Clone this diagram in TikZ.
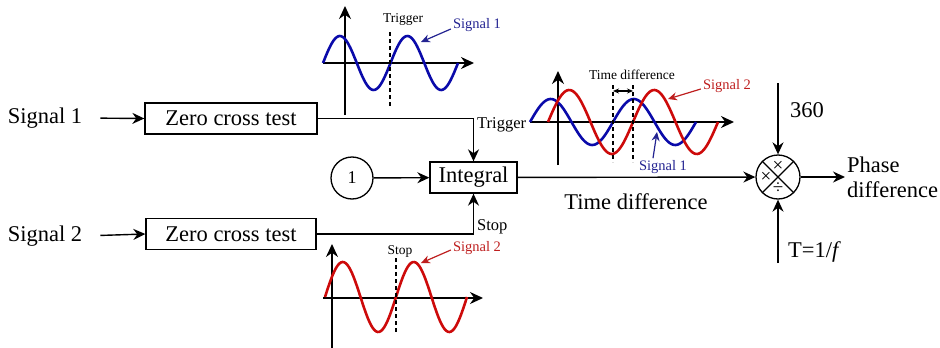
\documentclass[tikz,border=0pt]{standalone}
\usepackage{fontspec}
\setmainfont{Liberation Serif}
\usetikzlibrary{arrows.meta}
\definecolor{wblue}{RGB}{10,10,170}
\definecolor{wred}{RGB}{205,10,10}
\definecolor{tblue}{RGB}{35,35,145}
\definecolor{tred}{RGB}{190,30,30}
\tikzset{
  big/.style={font=\fontsize{22.5}{25}\selectfont, inner sep=0pt},
  mid/.style={font=\fontsize{16.5}{18}\selectfont, inner sep=0pt},
  small/.style={font=\fontsize{13.5}{15}\selectfont, inner sep=0pt},
  blk/.style={draw, line width=1.3pt, big, minimum height=31pt},
  conn/.style={line width=1.4pt, -{Stealth[length=12pt,width=11pt]}},
  axis/.style={line width=1.4pt, -{Stealth[length=13pt,width=12pt]}},
  wave/.style={line width=2.6pt},
  guide/.style={line width=1.3pt, dash pattern=on 4pt off 3pt},
  lblarrow/.style={line width=1.2pt, -{Stealth[length=9pt,width=8pt]}},
  sym/.style={font=\fontsize{19}{20}\selectfont, inner sep=0pt},
}
\begin{document}
\begin{tikzpicture}[x=1pt,y=-1pt]
\useasboundingbox (0,0) rectangle (940,348);
% --- main blocks
\node[big] (s1) at (45,118) {Signal 1};
\node[big] (s2) at (45,236) {Signal 2};
\node[blk, minimum width=172pt] (z1) at (231,118.5) {Zero cross test};
\node[blk, minimum width=170pt] (z2) at (231,234) {Zero cross test};
\node[blk, minimum width=87pt] (int) at (473.5,177.5) {Integral};
\node[draw, circle, line width=1.3pt, minimum size=42pt, inner sep=0pt,
      font=\fontsize{18}{20}\selectfont] (one) at (352,178) {1};
\node[draw, circle, line width=1.3pt, minimum size=44pt, inner sep=0pt] (mul) at (778,177) {};
\draw[line width=1.1pt] (mul.north west) -- (mul.south east);
\draw[line width=1.1pt] (mul.north east) -- (mul.south west);
\node[sym] (mt) at (778,166) {×};
\node[sym] (ml) at (766,177) {×};
\node[sym] (mb) at (778,188.5) {÷};
\coordinate (c360) at (778,83);
\coordinate (cT) at (778,263);
\node[big, anchor=west] (n360) at (790,110) {360};
\node[big, anchor=west] (nT) at (788,252) {T=1/\textit{f}};
\node[big, anchor=west, align=left] (phase) at (847,177) {Phase\\difference};
\node[big] (td) at (636,202) {Time difference};
\node[mid, anchor=west] (trig) at (477,125) {Trigger};
\node[mid, anchor=west] (stop) at (477,227) {Stop};
% --- connectors
\draw[conn, shorten <=18pt] (s1.east) -- (z1.west);
\draw[conn, shorten <=18pt] (s2.east) -- (z2.west);
\draw[conn] (z1.east) -| (int.north);
\draw[conn] (z2.east) -| (int.south);
\draw[conn] (one) -- (int);
\draw[conn] (int) -- (mul);
\draw[conn] (c360) -- (mul);
\draw[conn] (cT) -- (mul);
\draw[conn, shorten >=2pt] (mul) -- (phase.west);
% --- top plot (signal 1)
\draw[axis] (345,115) -- (345,6);
\draw[axis] (323,63) -- (474,63);
\draw[wave, wblue] plot[domain=323:458, samples=90, smooth] (\x, {63-27*sin(5.3333*(\x-323))});
\draw[guide] (390,32) -- (390,106);
\node[small] (tr1) at (403,19) {Trigger};
\node[font=\fontsize{14.5}{16}\selectfont, inner sep=0pt, text=tblue] (sg1) at (477,25) {Signal 1};
\coordinate (sg1t) at (421,42);
\draw[lblarrow, tblue] (sg1.west) ++(-2,4) -- (sg1t);
% --- bottom plot (signal 2)
\draw[axis] (332,348) -- (332,244);
\draw[axis] (323,298) -- (483,298);
\draw[wave, wred] plot[domain=325:467, samples=90, smooth] (\x, {297-35*sin(5.0704*(\x-325))});
\draw[guide] (396,258) -- (396,333);
\node[small] (stp) at (400,251) {Stop};
\node[font=\fontsize{14.5}{16}\selectfont, inner sep=0pt, text=tred] (sg2) at (477,248) {Signal 2};
\coordinate (sg2t) at (421,263);
\draw[lblarrow, tred] (sg2.west) ++(-2,2) -- (sg2t);
% --- middle plot (both signals)
\draw[axis] (558,165) -- (558,71);
\draw[axis] (530,122) -- (734,122);
\draw[wave, wblue] plot[domain=530:696, samples=100, smooth] (\x, {122-23*sin(4.3373*(\x-530))});
\draw[wave, wred] plot[domain=548:718, samples=100, smooth] (\x, {122-32*sin(4.2353*(\x-548))});
\draw[guide] (613,85) -- (613,162);
\draw[guide] (633,85) -- (633,162);
\coordinate (da) at (613,91);
\coordinate (db) at (633,91);
\draw[line width=1.1pt, {Stealth[length=6pt,width=5pt]}-{Stealth[length=6pt,width=5pt]}] (da) -- (db);
\node[small] (tdl) at (632,75) {Time difference};
\node[font=\fontsize{14.5}{16}\selectfont, inner sep=0pt, text=tred] (sg2m) at (727,86) {Signal 2};
\coordinate (sg2mt) at (668,99);
\draw[lblarrow, tred] (sg2m.west) ++(-2,3) -- (sg2mt);
\node[font=\fontsize{14.5}{16}\selectfont, inner sep=0pt, text=tblue] (sg1m) at (663,167) {Signal 1};
\coordinate (sg1mt) at (657,132);
\draw[lblarrow, tblue] (sg1m.north) ++(-10,-2) -- (sg1mt);
\end{tikzpicture}
\end{document}
